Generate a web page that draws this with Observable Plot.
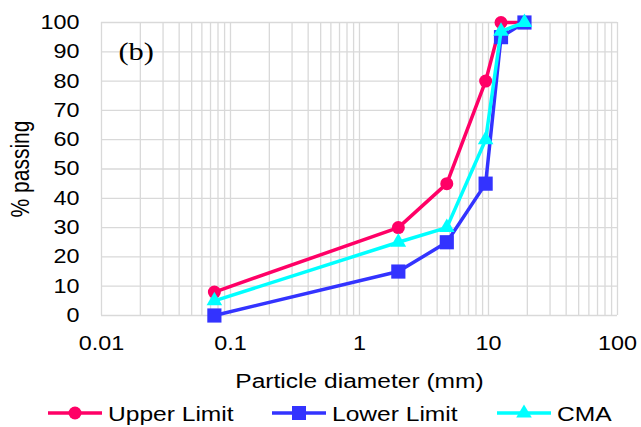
<!DOCTYPE html>
<html><head><meta charset="utf-8">
<script src="https://cdn.jsdelivr.net/npm/d3@7"></script>
<script src="https://cdn.jsdelivr.net/npm/@observablehq/plot@0.6"></script>
<style>
body{margin:0;background:#fff;}
#wrap{position:relative;width:641px;height:427px;overflow:hidden;font-family:"Liberation Sans",Arial,sans-serif;}
#chart svg{display:block;}
#legend{position:absolute;left:0;top:398px;width:641px;height:29px;}
.item{position:absolute;top:0;height:29px;}
.item svg{position:absolute;left:0;top:0;overflow:visible;}
.item span{position:absolute;top:4.7px;font-size:21px;line-height:21px;white-space:nowrap;transform:scaleX(1.17);transform-origin:left center;color:#000;}
</style></head>
<body><div id="wrap"><div id="chart"></div><div id="legend"></div></div>
<script>
// ---- data ----
const sizes = [0.075, 2, 4.75, 9.5, 12.5, 19];
const upperLimit = [8, 30, 45, 80, 100, 100];
const lowerLimit = [0, 15, 25, 45, 95, 100];
const cma = [5, 25, 30, 60, 97, 100];
const seriesNames = ["Upper Limit", "Lower Limit", "CMA"];
const seriesColors = ["#ff0066", "#3333ff", "#00ffff"];
const seriesSymbols = ["circle", "square", "triangle"];
const xTicks = [0.01, 0.1, 1, 10, 100];
const xTickLabels = ["0.01", "0.1", "1", "10", "100"];
const yTicks = [0, 10, 20, 30, 40, 50, 60, 70, 80, 90, 100];
const panelLabel = "(b)";
const xLabel = "Particle diameter (mm)";
const yLabel = "% passing";

const seriesValues = [upperLimit, lowerLimit, cma];
const symbolR = {circle: 6.5, square: 8, triangle: 5.8};
const gridX = [0.01, 0.1, 1, 10].flatMap(d => [1,2,3,4,5,6,7,8,9].map(m => +(m * d).toPrecision(3))).concat([100]);

const marks = [
  Plot.ruleX(gridX, {stroke: "#d9d9d9", strokeWidth: 1.3}),
  Plot.ruleY(yTicks, {stroke: "#d9d9d9", strokeWidth: 1.3})
];
seriesNames.forEach((name, k) => {
  const rows = sizes.map((s, i) => ({size: s, pass: seriesValues[k][i]}));
  marks.push(Plot.line(rows, {x: "size", y: "pass", stroke: seriesColors[k], strokeWidth: 3.5}));
  marks.push(Plot.dot(rows, {x: "size", y: "pass", symbol: seriesSymbols[k], r: symbolR[seriesSymbols[k]], fill: seriesColors[k], stroke: "none"}));
});
marks.push(Plot.text([panelLabel], {frameAnchor: "top-left", dx: 17, dy: 29, textAnchor: "start", lineAnchor: "middle", fontFamily: "Liberation Serif, Times New Roman, serif", fontSize: 26, fill: "#000"}));
marks.push(Plot.text([xLabel], {frameAnchor: "bottom", dy: 66, textAnchor: "middle", lineAnchor: "middle", fontSize: 21, fill: "#000"}));
marks.push(Plot.text([yLabel], {frameAnchor: "left", dx: -81, rotate: -90, textAnchor: "middle", lineAnchor: "middle", fontSize: 21, fill: "#000"}));

const chart = Plot.plot({
  width: 641, height: 398,
  marginLeft: 101, marginRight: 24, marginTop: 22, marginBottom: 83,
  style: {fontFamily: "Liberation Sans, Arial, sans-serif", fontSize: "20px", color: "#000", background: "#fff"},
  x: {type: "log", domain: [0.01, 100], ticks: xTicks, tickFormat: d => xTickLabels[xTicks.indexOf(d)] ?? "", tickSize: 0, tickPadding: 20, label: null},
  y: {domain: [0, 100], ticks: yTicks, tickSize: 0, tickPadding: 22, label: null},
  marks
});
document.getElementById("chart").appendChild(chart);

// widen text horizontally (on screen) to match reference glyph proportions
chart.querySelectorAll("text").forEach(t => {
  const tr = t.getAttribute("transform") || "";
  const extra = tr.includes("rotate") ? " scale(1,1.2)" : " scale(1.17,1)";
  t.setAttribute("transform", (tr + extra).trim());
});

// ---- legend ----
const legendLeft = [48, 272, 497];
const legend = document.getElementById("legend");
seriesNames.forEach((name, k) => {
  const item = document.createElement("div");
  item.className = "item";
  item.style.left = legendLeft[k] + "px";
  const c = seriesColors[k];
  let marker;
  if (seriesSymbols[k] === "circle") marker = `<circle cx="27" cy="15" r="6.5" fill="${c}"/>`;
  else if (seriesSymbols[k] === "square") marker = `<rect x="20" y="8" width="14" height="14" fill="${c}"/>`;
  else marker = `<polygon points="27,6.5 34.8,19.5 19.2,19.5" fill="${c}"/>`;
  item.innerHTML = `<svg width="56" height="29"><line x1="0" x2="54" y1="15" y2="15" stroke="${c}" stroke-width="3.5"/>${marker}</svg><span style="left:60px">${name}</span>`;
  legend.appendChild(item);
});
</script>
</body></html>
